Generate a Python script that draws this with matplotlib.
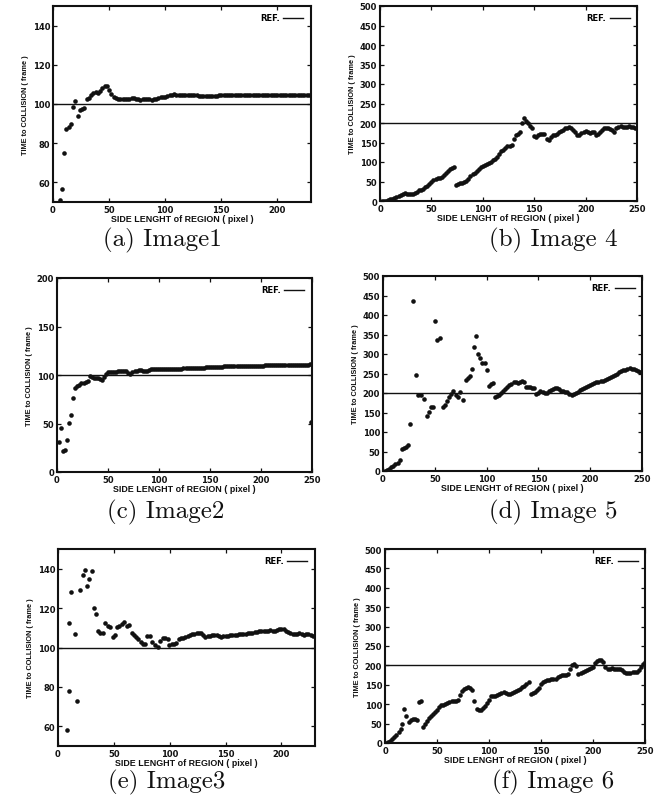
import numpy as np
import matplotlib
matplotlib.use("Agg")
import matplotlib.pyplot as plt

# ---- data ----
# (a) Image1, x = 6..228 step 2
a_x = list(range(6, 230, 2))
a_y = [51, 56.5, 75, 87, 88.5, 90, 98.5, 101.5, 94, 96.8, 97.2, 97.8, 102.6, 103.2, 104.5, 105.5,
       106.2, 105.5, 106.8, 108.2, 109, 109.2, 107, 105.2, 103.5, 103, 102.8, 102.6, 102.5, 102.7,
       102.8, 102.6, 103, 103.2, 102.8, 102.4, 101.8, 102.6, 102.3, 102.8, 102.4, 102.2, 102.5,
       102.8, 103, 103.4, 103.6, 103.8, 104.2, 104.5, 104.8, 104.9, 104.8, 104.7, 104.8, 104.7,
       104.6, 104.6, 104.5, 104.5, 104.4, 104.4, 104.3, 104.2, 104.1, 104.0, 103.9, 103.9, 104.0,
       104.2, 104.3, 104.5, 104.6, 104.6, 104.7, 104.6, 104.6, 104.7, 104.7, 104.6, 104.6, 104.7,
       104.7, 104.6, 104.6, 104.7, 104.7, 104.6, 104.6, 104.7, 104.7, 104.6, 104.6, 104.7, 104.6,
       104.6, 104.7, 104.7, 104.6, 104.5, 104.6, 104.7, 104.7, 104.6, 104.6, 104.7, 104.7, 104.6,
       104.6, 104.7, 104.7, 104.6]

# (b) Image 4, x = 2..250 step 2
b_x = list(range(2, 252, 2))
b_y = [0, 0, 1, 2, 4, 6, 8, 10, 13, 16, 18, 20, 19, 18, 18, 19, 21, 24, 27, 29, 31, 35, 39, 44,
       49, 53, 56, 58, 60, 62, 66, 72, 77, 81, 85, 88, 41, 43, 45, 47, 49, 52, 56, 63, 68, 72, 78,
       83, 87, 90, 93, 95, 97, 100, 104, 108, 114, 121, 128, 132, 135, 140, 141, 143, 160, 168,
       172, 178, 200, 214, 206, 200, 193, 188, 166, 163, 168, 171, 172, 173, 160, 157, 165, 170,
       168, 172, 176, 180, 183, 186, 188, 189, 187, 182, 176, 168, 170, 175, 178, 180, 178, 174,
       176, 178, 168, 172, 176, 182, 186, 188, 186, 184, 182, 176, 186, 190, 192, 190, 191, 190,
       193, 191, 190, 188, 186]

# (c) Image2, x = 2..250 step 2 (+ one stray point at the right edge)
c_x = list(range(2, 252, 2))
c_y = [31, 45, 22, 23, 33, 51, 59, 76, 87, 89, 90, 91.5, 92, 93, 94, 98.5, 97.5, 97, 97, 96.5,
       96, 95, 98, 101, 103, 103, 103, 103, 103.5, 104, 104, 104, 104.5, 104, 102.5, 101, 103,
       104, 104.5, 105, 105, 104.5, 104, 104, 105, 106, 106.5, 106.5, 106, 106, 106, 106.2, 106.1,
       106.3, 106.3, 106.2, 106.4, 106.5, 106.4, 106.5, 106.7, 106.8, 106.8, 107, 107, 107.1,
       107.2, 107.2, 107.3, 107.4, 107.6, 107.7, 107.8, 108, 108, 108.2, 108.3, 108.4, 108.5,
       108.5, 108.7, 108.8, 108.8, 109, 109, 109.1, 109.2, 109.2, 109.3, 109.3, 109.4, 109.4,
       109.5, 109.5, 109.5, 109.6, 109.6, 109.6, 109.7, 109.7, 109.7, 109.8, 109.8, 109.8, 109.9,
       109.9, 110, 110, 110, 110.1, 110.1, 110.2, 110.2, 110.3, 110.3, 110.4, 110.4, 110.5,
       110.5, 110.6, 110.6, 110.7, 110.8, 110.9, 111]
c_stray_x = [249]
c_stray_y = [52]

# (d) Image 5
d_x = [2, 4, 6, 8, 10, 12, 14, 16, 18, 20, 22, 24, 26, 28.5, 31.5, 34, 36.5, 40, 42, 44.5, 46.5,
       48.5, 50.5, 52.5, 55, 57.5, 60, 62, 64, 66, 68, 70, 72, 74, 77, 80, 82, 84, 86, 88, 90, 92,
       94, 96, 98, 100, 102, 104, 106, 108, 110, 112, 114, 116, 118, 120, 122, 124, 126, 128,
       130, 132, 134, 136, 138, 140, 142, 144, 146, 148, 150, 152, 154, 156, 158, 160, 162, 164,
       166, 168, 170, 172, 174, 176, 178, 180, 182, 184, 186, 188, 190, 192, 194, 196, 198, 200,
       202, 204, 206, 208, 210, 212, 214, 216, 218, 220, 222, 224, 226, 228, 230, 232, 234, 236,
       238, 240, 242, 244, 246, 248, 250]
d_y = [1, 3, 6, 9, 13, 17, 21, 27, 56, 58, 62, 67, 121, 437, 246, 196, 196, 185, 140, 151, 165,
       163, 384, 337, 340, 164, 170, 180, 190, 197, 205, 196, 190, 203, 181, 233, 238, 244, 261,
       317, 345, 300, 291, 278, 278, 260, 217, 222, 225, 190, 192, 195, 199, 204, 210, 216, 220,
       224, 227, 228, 226, 228, 230, 228, 216, 215, 216, 214, 212, 198, 200, 204, 203, 201, 201,
       204, 207, 209, 212, 214, 210, 205, 204, 203, 202, 198, 196, 197, 200, 203, 207, 210, 212,
       215, 218, 220, 222, 225, 227, 229, 231, 231, 233, 236, 239, 241, 244, 247, 250, 253, 256,
       258, 260, 262, 263, 262, 261, 259, 257, 255, 253]

# (e) Image3
e_x = [8, 9.5, 10, 12, 15, 17.3, 20, 22, 24, 26, 28, 30, 32, 34, 36, 38, 40, 42.3, 44.6, 46.7,
       48.8, 50.6, 52.7, 54.8, 57, 59.5, 61.6, 63.7, 66, 68, 70, 72, 74, 76, 78, 80, 82.4, 84.5,
       87, 89.3, 91.4, 94, 96, 98, 99.5, 101.8, 104, 106, 108, 110, 112, 114, 116, 118, 120, 122,
       124, 126, 128, 130, 132, 134, 136, 138, 140, 142, 144, 146, 148, 150, 152, 154, 156, 158,
       160, 162, 164, 166, 168, 170, 172, 174, 176, 178, 180, 182, 184, 186, 188, 190, 192, 194,
       196, 198, 200, 202, 204, 206, 208, 210, 212, 214, 216, 218, 220, 222, 224, 226, 228]
e_y = [58.3, 78, 112.4, 128.4, 107, 73, 129, 136.6, 139.4, 131, 135, 139, 120, 117.2, 108.2,
       107.5, 107.2, 112.4, 110.8, 110.3, 105.5, 106.4, 110.3, 110.8, 111.9, 112.9, 110.8, 111.2,
       107.4, 106.5, 105.5, 104.3, 103, 102, 101.7, 106, 105.7, 102.6, 101.2, 100.5, 103.1,
       104.6, 104.8, 104.2, 101.2, 101.7, 102, 102.1, 104.3, 104.6, 105, 105.2, 106, 106.4,
       106.9, 107.1, 107.2, 107.4, 107.2, 106.5, 105.5, 105.6, 106, 106.2, 106.4, 106.2, 105.9,
       105.5, 105.7, 105.8, 106, 106.2, 106.3, 106.4, 106.5, 106.7, 106.9, 107, 107.1, 107.2,
       107.4, 107.6, 107.7, 108, 108.2, 108.4, 108.5, 108.6, 108.6, 108.7, 108.6, 108.6, 108.9,
       109.2, 109.5, 109.2, 108.5, 107.7, 107.4, 107.1, 106.9, 107, 107.2, 106.8, 106.4, 106.6,
       106.9, 106.5, 106]

# (f) Image 6
f_x = [1, 3, 5, 7, 9, 11, 13, 15, 16.7, 18.3, 20.6, 23, 25, 27, 29, 31, 32.8, 34.4, 36.7, 38,
       40, 42, 44, 46, 48, 50, 52, 54, 56, 58, 60, 62, 64, 66, 68, 70, 72, 74, 76, 78, 80, 82, 84,
       86, 88, 90, 92, 94, 96, 98, 100, 102, 104, 106, 108, 110, 112, 114, 116, 118, 120, 122,
       124, 126, 128, 130, 132, 134, 136, 138.4, 140.6, 142, 144, 146, 148, 150, 152, 154, 156,
       158, 160, 162, 164, 166, 168, 170, 172, 174, 176, 178, 180, 182, 184, 185.6, 188, 190,
       192, 194, 196, 198, 200, 202, 204, 206, 208, 210, 212, 214, 216, 218, 220, 222, 224, 226,
       228, 230, 232, 234, 236, 238, 240, 242, 244, 246, 248, 250]
f_y = [0, 2, 6, 10, 15, 21, 28, 35, 49, 88, 70, 55, 60, 63, 62, 58, 105, 107, 40, 48, 56, 64,
       70, 75, 80, 86, 92, 97, 99, 100, 102, 105, 108, 108, 107, 112, 125, 135, 140, 142, 144,
       142, 137, 109, 87, 86, 86, 89, 95, 103, 112, 122, 120, 120, 124, 127, 129, 131, 130, 126,
       127, 129, 131, 133, 136, 140, 145, 148, 152, 157, 126, 129, 132, 136, 142, 152, 158, 161,
       162, 163, 164, 165, 166, 169, 172, 174, 175, 176, 178, 190, 200, 204, 198, 178, 181, 183,
       185, 189, 192, 194, 196, 205, 212, 215, 213, 208, 195, 191, 192, 193, 192, 191, 191, 190,
       188, 182, 181, 180, 181, 182, 183, 184, 187, 196, 204, 209]

captions = ["(a) Image1", "(b) Image 4", "(c) Image2", "(d) Image 5", "(e) Image3", "(f) Image 6"]
ref_values = [100, 200, 100, 200, 100, 200]

W, H = 663, 812
fig = plt.figure(figsize=(W / 100, H / 100), dpi=100)

# axes boxes in pixels: left, top, right, bottom
boxes = [(53, 7, 311, 203), (380, 7, 637, 202),
         (57, 279, 312, 473), (383, 277, 642, 472),
         (58, 550, 315, 747), (385, 550, 645, 744)]
limits = [((0, 230), (50, 150)), ((0, 250), (0, 500)),
          ((0, 250), (0, 200)), ((0, 250), (0, 500)),
          ((0, 230), (50, 150)), ((0, 250), (0, 500))]
yticks = [[60, 80, 100, 120, 140], list(range(0, 550, 50)),
          [0, 50, 100, 150, 200], list(range(0, 550, 50)),
          [60, 80, 100, 120, 140], list(range(0, 550, 50))]
series = [(a_x, a_y), (b_x, b_y), (c_x, c_y), (d_x, d_y), (e_x, e_y), (f_x, f_y)]
cap_pos = [(162, 240), (553, 240), (166, 512), (553, 512), (167, 782), (553, 782)]

sans = "Liberation Sans"
bold_ticks = "DejaVu Sans"
ink = "#111111"

for i in range(6):
    l, t, r, b = boxes[i]
    ax = fig.add_axes([l / W, 1 - b / H, (r - l) / W, (b - t) / H])
    xs, ys = series[i]
    ax.plot(xs, ys, "o", color=ink, markersize=3.3, markeredgewidth=0)
    if i == 2:
        ax.plot(c_stray_x, c_stray_y, "o", color=ink, markersize=3.3, markeredgewidth=0)
    ax.axhline(ref_values[i], color=ink, lw=1.0, label="REF.")
    (x0, x1), (y0, y1) = limits[i]
    ax.set_xlim(x0, x1)
    ax.set_ylim(y0, y1)
    ax.set_xticks(list(range(0, x1 + 1, 50)))
    ax.set_yticks(yticks[i])
    ax.tick_params(direction="in", top=True, right=True, length=3, width=0.9, pad=2,
                   labelsize=6, colors=ink)
    for lab in ax.get_xticklabels() + ax.get_yticklabels():
        lab.set_fontweight("bold")
        lab.set_family(bold_ticks)
    for s in ax.spines.values():
        s.set_linewidth(1.5)
        s.set_color(ink)
    ax.set_xlabel("SIDE LENGHT of REGION ( pixel )", fontsize=6.4, fontweight="bold",
                  family=sans, labelpad=0, color=ink)
    ax.set_ylabel("TIME to COLLISION ( frame )", fontsize=5.3, fontweight="bold",
                  family=sans, labelpad=3, color=ink)
    ax.legend(loc="upper right", frameon=False, markerfirst=False, handlelength=2.4,
              handletextpad=0.4, borderaxespad=0.5,
              prop={"family": bold_ticks, "weight": "bold", "size": 6.0})
    cx, cy = cap_pos[i]
    fig.text(cx / W, 1 - cy / H, captions[i], ha="center", va="center",
             family="cmr10", fontsize=18, color=ink)

fig.savefig("out.png", dpi=100)
